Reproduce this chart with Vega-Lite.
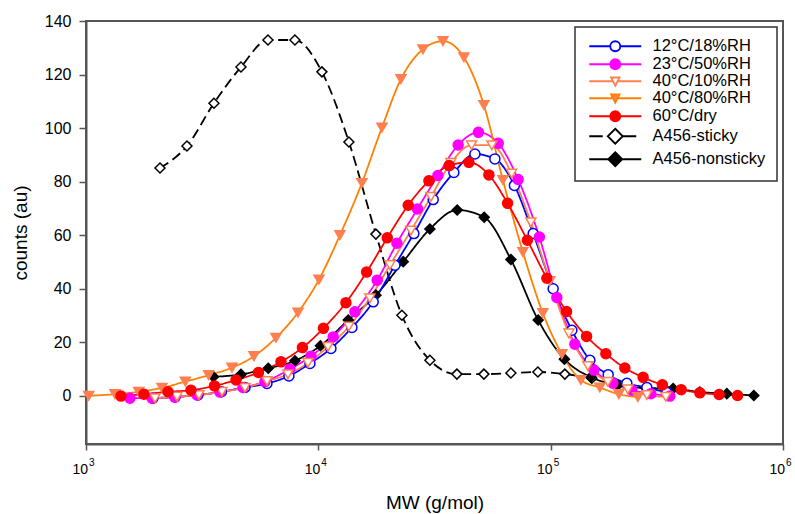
{
"$schema": "https://vega.github.io/schema/vega-lite/v6.json",
"width": 697, "height": 423,
"autosize": {"type": "none"},
"padding": {"left": 86, "top": 21, "right": 12, "bottom": 70},
"background": "white",
"data": {"values": [
{"s":"A456-sticky","x":2082,"y":85.1},{"s":"A456-sticky","x":2720,"y":93.3},{"s":"A456-sticky","x":3554,"y":109.3},{"s":"A456-sticky","x":4645,"y":122.8},{"s":"A456-sticky","x":6069,"y":132.9},{"s":"A456-sticky","x":7930,"y":132.9},{"s":"A456-sticky","x":10360,"y":121.0},{"s":"A456-sticky","x":13540,"y":94.8},{"s":"A456-sticky","x":17690,"y":60.4},{"s":"A456-sticky","x":22890,"y":30.1},{"s":"A456-sticky","x":30210,"y":13.3},{"s":"A456-sticky","x":39480,"y":8.1},{"s":"A456-sticky","x":51600,"y":8.1},{"s":"A456-sticky","x":67430,"y":8.5},{"s":"A456-sticky","x":88090,"y":8.9},{"s":"A456-sticky","x":115100,"y":8.1},{"s":"A456-sticky","x":150400,"y":6.6},
{"s":"A456-nonsticky","x":3537,"y":7.1},{"s":"A456-nonsticky","x":4645,"y":8.0},{"s":"A456-nonsticky","x":6087,"y":10.3},{"s":"A456-nonsticky","x":7930,"y":13.1},{"s":"A456-nonsticky","x":10210,"y":18.7},{"s":"A456-nonsticky","x":13450,"y":28.3},{"s":"A456-nonsticky","x":17690,"y":37.6},{"s":"A456-nonsticky","x":23190,"y":50.1},{"s":"A456-nonsticky","x":30210,"y":62.3},{"s":"A456-nonsticky","x":39600,"y":69.4},{"s":"A456-nonsticky","x":51750,"y":66.7},{"s":"A456-nonsticky","x":67430,"y":50.9},{"s":"A456-nonsticky","x":88350,"y":28.3},{"s":"A456-nonsticky","x":114600,"y":13.7},{"s":"A456-nonsticky","x":148900,"y":7.0},{"s":"A456-nonsticky","x":194600,"y":4.0},{"s":"A456-nonsticky","x":256800,"y":2.9},{"s":"A456-nonsticky","x":336600,"y":2.7},{"s":"A456-nonsticky","x":438500,"y":1.4},{"s":"A456-nonsticky","x":573200,"y":0.8},{"s":"A456-nonsticky","x":748800,"y":0.1},
{"s":"12°C/18%RH","x":1942,"y":-0.9},{"s":"12°C/18%RH","x":2415,"y":-0.4},{"s":"12°C/18%RH","x":3033,"y":0.3},{"s":"12°C/18%RH","x":3828,"y":1.5},{"s":"12°C/18%RH","x":4833,"y":3.1},{"s":"12°C/18%RH","x":6009,"y":4.6},{"s":"12°C/18%RH","x":7472,"y":7.4},{"s":"12°C/18%RH","x":9203,"y":12.1},{"s":"12°C/18%RH","x":11330,"y":17.7},{"s":"12°C/18%RH","x":13950,"y":25.5},{"s":"12°C/18%RH","x":17230,"y":35.1},{"s":"12°C/18%RH","x":21360,"y":48.8},{"s":"12°C/18%RH","x":25780,"y":60.6},{"s":"12°C/18%RH","x":31220,"y":73.3},{"s":"12°C/18%RH","x":38320,"y":83.4},{"s":"12°C/18%RH","x":47190,"y":90.3},{"s":"12°C/18%RH","x":57530,"y":88.5},{"s":"12°C/18%RH","x":69820,"y":78.6},{"s":"12°C/18%RH","x":84080,"y":60.6},{"s":"12°C/18%RH","x":102500,"y":40.0},{"s":"12°C/18%RH","x":123400,"y":24.5},{"s":"12°C/18%RH","x":147500,"y":13.3},{"s":"12°C/18%RH","x":176800,"y":7.9},{"s":"12°C/18%RH","x":212800,"y":4.7},{"s":"12°C/18%RH","x":259400,"y":3.1},{"s":"12°C/18%RH","x":316200,"y":1.2},
{"s":"23°C/50%RH","x":1546,"y":-0.9},{"s":"23°C/50%RH","x":1923,"y":-0.9},{"s":"23°C/50%RH","x":2415,"y":-0.5},{"s":"23°C/50%RH","x":3003,"y":0.3},{"s":"23°C/50%RH","x":3773,"y":1.4},{"s":"23°C/50%RH","x":4738,"y":3.1},{"s":"23°C/50%RH","x":5891,"y":5.3},{"s":"23°C/50%RH","x":7546,"y":10.0},{"s":"23°C/50%RH","x":9294,"y":14.8},{"s":"23°C/50%RH","x":11590,"y":22.0},{"s":"23°C/50%RH","x":14370,"y":31.4},{"s":"23°C/50%RH","x":17920,"y":43.2},{"s":"23°C/50%RH","x":21790,"y":57.0},{"s":"23°C/50%RH","x":26700,"y":69.8},{"s":"23°C/50%RH","x":32700,"y":82.3},{"s":"23°C/50%RH","x":39990,"y":93.7},{"s":"23°C/50%RH","x":48860,"y":98.4},{"s":"23°C/50%RH","x":59460,"y":94.3},{"s":"23°C/50%RH","x":72460,"y":80.8},{"s":"23°C/50%RH","x":89420,"y":59.3},{"s":"23°C/50%RH","x":106300,"y":36.7},{"s":"23°C/50%RH","x":127100,"y":19.3},{"s":"23°C/50%RH","x":153500,"y":9.6},{"s":"23°C/50%RH","x":185200,"y":4.7},{"s":"23°C/50%RH","x":223600,"y":2.1},{"s":"23°C/50%RH","x":269900,"y":0.8},{"s":"23°C/50%RH","x":325800,"y":-0.1},
{"s":"40°C/10%RH","x":1981,"y":-0.9},{"s":"40°C/10%RH","x":2464,"y":-0.3},{"s":"40°C/10%RH","x":3063,"y":0.3},{"s":"40°C/10%RH","x":3847,"y":1.5},{"s":"40°C/10%RH","x":4833,"y":3.0},{"s":"40°C/10%RH","x":6009,"y":5.5},{"s":"40°C/10%RH","x":7399,"y":8.0},{"s":"40°C/10%RH","x":9022,"y":12.3},{"s":"40°C/10%RH","x":11000,"y":18.3},{"s":"40°C/10%RH","x":13540,"y":25.9},{"s":"40°C/10%RH","x":16670,"y":36.4},{"s":"40°C/10%RH","x":20330,"y":48.8},{"s":"40°C/10%RH","x":25030,"y":61.7},{"s":"40°C/10%RH","x":30510,"y":74.3},{"s":"40°C/10%RH","x":37210,"y":87.0},{"s":"40°C/10%RH","x":45660,"y":93.6},{"s":"40°C/10%RH","x":55850,"y":93.6},{"s":"40°C/10%RH","x":67900,"y":83.0},{"s":"40°C/10%RH","x":82180,"y":64.8},{"s":"40°C/10%RH","x":99220,"y":42.9},{"s":"40°C/10%RH","x":119800,"y":23.3},{"s":"40°C/10%RH","x":144600,"y":11.1},{"s":"40°C/10%RH","x":176200,"y":5.2},{"s":"40°C/10%RH","x":214900,"y":2.4},{"s":"40°C/10%RH","x":259400,"y":0.3},{"s":"40°C/10%RH","x":313100,"y":-0.4},
{"s":"40°C/80%RH","x":1027,"y":0.0},{"s":"40°C/80%RH","x":1333,"y":0.6},{"s":"40°C/80%RH","x":1686,"y":1.5},{"s":"40°C/80%RH","x":2123,"y":3.0},{"s":"40°C/80%RH","x":2675,"y":5.3},{"s":"40°C/80%RH","x":3373,"y":7.7},{"s":"40°C/80%RH","x":4249,"y":10.5},{"s":"40°C/80%RH","x":5284,"y":14.8},{"s":"40°C/80%RH","x":6570,"y":21.7},{"s":"40°C/80%RH","x":8170,"y":31.1},{"s":"40°C/80%RH","x":10060,"y":43.4},{"s":"40°C/80%RH","x":12385,"y":60.0},{"s":"40°C/80%RH","x":15400,"y":79.5},{"s":"40°C/80%RH","x":18780,"y":100.2},{"s":"40°C/80%RH","x":22670,"y":118.3},{"s":"40°C/80%RH","x":28190,"y":129.4},{"s":"40°C/80%RH","x":34370,"y":132.5},{"s":"40°C/80%RH","x":42320,"y":126.4},{"s":"40°C/80%RH","x":51600,"y":108.6},{"s":"40°C/80%RH","x":62290,"y":80.6},{"s":"40°C/80%RH","x":75930,"y":53.7},{"s":"40°C/80%RH","x":92560,"y":30.9},{"s":"40°C/80%RH","x":111700,"y":15.6},{"s":"40°C/80%RH","x":134900,"y":5.9},{"s":"40°C/80%RH","x":162800,"y":3.1},{"s":"40°C/80%RH","x":196600,"y":0.6},{"s":"40°C/80%RH","x":237200,"y":-0.5},
{"s":"60°C/dry","x":1414,"y":-0.1},{"s":"60°C/dry","x":1776,"y":0.6},{"s":"60°C/dry","x":2253,"y":1.5},{"s":"60°C/dry","x":2830,"y":2.1},{"s":"60°C/dry","x":3572,"y":3.7},{"s":"60°C/dry","x":4420,"y":5.9},{"s":"60°C/dry","x":5525,"y":8.7},{"s":"60°C/dry","x":6905,"y":12.7},{"s":"60°C/dry","x":8543,"y":18.0},{"s":"60°C/dry","x":10517,"y":25.2},{"s":"60°C/dry","x":13145,"y":34.8},{"s":"60°C/dry","x":16135,"y":46.2},{"s":"60°C/dry","x":19800,"y":59.0},{"s":"60°C/dry","x":24375,"y":71.2},{"s":"60°C/dry","x":29920,"y":80.3},{"s":"60°C/dry","x":36590,"y":86.0},{"s":"60°C/dry","x":44460,"y":87.2},{"s":"60°C/dry","x":54220,"y":82.5},{"s":"60°C/dry","x":65250,"y":71.9},{"s":"60°C/dry","x":79380,"y":58.1},{"s":"60°C/dry","x":96290,"y":43.9},{"s":"60°C/dry","x":117060,"y":31.5},{"s":"60°C/dry","x":142720,"y":22.2},{"s":"60°C/dry","x":172800,"y":15.7},{"s":"60°C/dry","x":208600,"y":10.4},{"s":"60°C/dry","x":250000,"y":6.9},{"s":"60°C/dry","x":302400,"y":4.1},{"s":"60°C/dry","x":364400,"y":2.3},{"s":"60°C/dry","x":438500,"y":1.1},{"s":"60°C/dry","x":530900,"y":0.5},{"s":"60°C/dry","x":637200,"y":0.1}
]},
"encoding": {
  "x": {"field": "x", "type": "quantitative", "title": "MW (g/mol)",
    "scale": {"type": "log", "domain": [1000, 1000000]},
    "axis": {"orient": "bottom", "values": [1000, 10000, 100000, 1000000], "labelExpr": "'10'", "labelFlush": false, "labelAlign": "right", "labelOffset": 1.5, "tickSize": 6, "labelPadding": 12, "labelFontSize": 14, "titleFontSize": 19, "titlePadding": 17, "grid": false}},
  "y": {"field": "y", "type": "quantitative", "title": "counts (au)",
    "scale": {"domain": [-18, 140], "nice": false, "zero": false},
    "axis": {"values": [0, 20, 40, 60, 80, 100, 120, 140], "tickSize": 7, "labelPadding": 8, "labelFontSize": 16, "titleFontSize": 19, "titlePadding": 14, "grid": false}}
},
"layer": [
  {"mark": {"type": "line", "interpolate": "monotone", "strokeWidth": 1.8},
   "encoding": {
     "color": {"field": "s", "type": "nominal", "legend": null, "scale": {"domain": ["12°C/18%RH","23°C/50%RH","40°C/10%RH","40°C/80%RH","60°C/dry","A456-sticky","A456-nonsticky"], "range": ["#0000FF","#FF00FF","#FF7F50","#FF8000","#FF0000","#000000","#000000"]}},
     "strokeDash": {"field": "s", "type": "nominal", "legend": null, "scale": {"domain": ["12°C/18%RH","23°C/50%RH","40°C/10%RH","40°C/80%RH","60°C/dry","A456-sticky","A456-nonsticky"], "range": [[1,0],[1,0],[1,0],[1,0],[1,0],[10,5],[1,0]]}}
   }},
  {"mark": {"type": "point", "opacity": 1, "fillOpacity": 1, "strokeWidth": 1.5},
   "encoding": {
     "x": {"field": "x", "type": "quantitative", "scale": {"type": "log", "domain": [1000, 1000000]}, "axis": null},
     "shape": {"field": "s", "type": "nominal", "legend": null, "scale": {"domain": ["12°C/18%RH","23°C/50%RH","40°C/10%RH","40°C/80%RH","60°C/dry","A456-sticky","A456-nonsticky"], "range": ["circle","circle","triangle-down","triangle-down","circle","diamond","diamond"]}},
     "fill": {"field": "s", "type": "nominal", "legend": null, "scale": {"domain": ["12°C/18%RH","23°C/50%RH","40°C/10%RH","40°C/80%RH","60°C/dry","A456-sticky","A456-nonsticky"], "range": ["#FFFFFF","#FF00FF","#FFFFFF","#FF7F50","#FF0000","#FFFFFF","#000000"]}},
     "stroke": {"field": "s", "type": "nominal", "legend": null, "scale": {"domain": ["12°C/18%RH","23°C/50%RH","40°C/10%RH","40°C/80%RH","60°C/dry","A456-sticky","A456-nonsticky"], "range": ["#0000FF","#FF00FF","#FF7F50","#FF7F50","#FF0000","#000000","#000000"]}},
     "size": {"field": "s", "type": "nominal", "legend": null, "scale": {"domain": ["12°C/18%RH","23°C/50%RH","40°C/10%RH","40°C/80%RH","60°C/dry","A456-sticky","A456-nonsticky"], "range": [100,100,105,105,100,140,140]}}
   }},
  {"transform": [{"filter": "false"}],
   "mark": {"type": "point", "opacity": 1, "fillOpacity": 1, "strokeWidth": 1.8},
   "encoding": {
     "x": {"field": "x", "type": "quantitative", "scale": {"type": "log", "domain": [1000, 1000000]},
       "axis": {"orient": "top", "offset": -423, "values": [1000, 10000, 100000, 1000000], "labelExpr": "datum.value == 1000 ? '3' : datum.value == 10000 ? '4' : datum.value == 100000 ? '5' : '6'", "labelFlush": false, "labelAlign": "left", "labelOffset": 2.5, "labelBaseline": "alphabetic", "labelPadding": -21, "labelFontSize": 10, "ticks": false, "tickSize": 0, "domain": false, "grid": false, "title": null, "labelOverlap": false}},
     "shape": {"field": "s", "type": "nominal", "legend": {"title": null}, "scale": {"domain": ["12°C/18%RH","23°C/50%RH","40°C/10%RH","40°C/80%RH","60°C/dry","A456-sticky","A456-nonsticky"], "range": [
        "M-5.2,0L-1,0M1,0L5.2,0M-1,0A1,1,0,1,0,1,0A1,1,0,1,0,-1,0Z",
        "M-5.2,0L-1,0M1,0L5.2,0M-1,0A1,1,0,1,0,1,0A1,1,0,1,0,-1,0Z",
        "M-5.2,0L-0.46,0M0.46,0L5.2,0M-0.85,-0.75L0.85,-0.75L0,0.9Z",
        "M-5.2,0L-0.46,0M0.46,0L5.2,0M-0.85,-0.75L0.85,-0.75L0,0.9Z",
        "M-5.2,0L-1,0M1,0L5.2,0M-1,0A1,1,0,1,0,1,0A1,1,0,1,0,-1,0Z",
        "M-5.2,0L-2.5,0M1.5,0L4.2,0M0,-1.5L1.5,0L0,1.5L-1.5,0Z",
        "M-5.2,0L-1.4,0M1.4,0L5.2,0M0,-1.4L1.4,0L0,1.4L-1.4,0Z"]}},
     "fill": {"field": "s", "type": "nominal", "legend": {"title": null}, "scale": {"domain": ["12°C/18%RH","23°C/50%RH","40°C/10%RH","40°C/80%RH","60°C/dry","A456-sticky","A456-nonsticky"], "range": ["#FFFFFF","#FF00FF","#FFFFFF","#FF7F50","#FF0000","#FFFFFF","#000000"]}},
     "stroke": {"field": "s", "type": "nominal", "legend": {"title": null}, "scale": {"domain": ["12°C/18%RH","23°C/50%RH","40°C/10%RH","40°C/80%RH","60°C/dry","A456-sticky","A456-nonsticky"], "range": ["#0000FF","#FF00FF","#FF7F50","#FF8000","#FF0000","#000000","#000000"]}}
   }}
],
"resolve": {
  "scale": {"shape": "independent", "fill": "independent", "stroke": "independent"},
  "legend": {"shape": "independent", "fill": "independent", "stroke": "independent"},
  "axis": {"x": "independent"}
},
"config": {
  "font": "Liberation Sans",
  "view": {"stroke": "#555555", "strokeWidth": 2},
  "axis": {"domainColor": "#555555", "domainWidth": 2, "tickColor": "#555555", "tickWidth": 1.5, "labelColor": "#000000", "titleColor": "#000000", "titleFontWeight": "normal", "labelFont": "Liberation Sans", "titleFont": "Liberation Sans"},
  "legend": {"orient": "top-right", "offset": 6, "padding": 11, "strokeColor": "#333333", "strokeWidth": 1.5, "fillColor": "#FFFFFF", "symbolSize": 100, "symbolStrokeWidth": 1.8, "symbolOffset": 21, "labelOffset": 29, "labelFont": "Liberation Sans", "labelFontSize": 16.5, "labelColor": "#000000", "rowPadding": 0, "symbolOpacity": 1, "labelLimit": 300}
}
}
